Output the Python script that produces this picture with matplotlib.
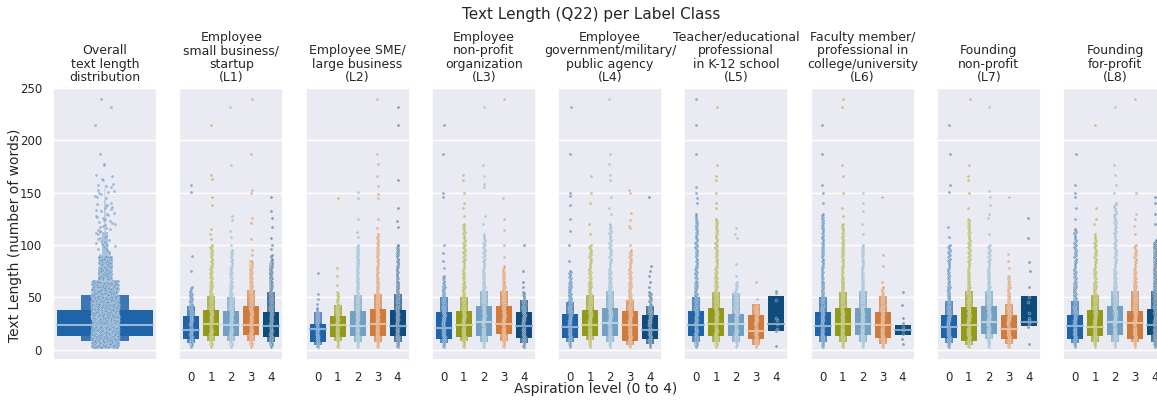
import numpy as np
import matplotlib
matplotlib.use("Agg")
import matplotlib.pyplot as plt
import seaborn as sns
from matplotlib.colors import to_rgb
from matplotlib.patches import Rectangle

sns.set_theme(style="darkgrid")
plt.rcParams['font.family'] = ['DejaVu Sans']

# ---- data ----
levels = [0, 1, 2, 3, 4]
level_colors = ["#1f63a8", "#939a1a", "#72a0c3", "#d07a3b", "#0f4c7e"]

panel_titles = [
    "Employee\nsmall business/\nstartup\n(L1)",
    "Employee SME/\nlarge business\n(L2)",
    "Employee\nnon-profit\norganization\n(L3)",
    "Employee\ngovernment/military/\npublic agency\n(L4)",
    "Teacher/educational\nprofessional\nin K-12 school\n(L5)",
    "Faculty member/\nprofessional in\ncollege/university\n(L6)",
    "Founding\nnon-profit\n(L7)",
    "Founding\nfor-profit\n(L8)",
]

# median text length per panel (L1..L8) and aspiration level (0..4)
medians = [
    [19.0, 24.2, 23.6, 23.2, 22.3],
    [19.7, 23.0, 22.3, 24.2, 22.3],
    [20.4, 23.6, 26.1, 24.2, 22.3],
    [21.3, 23.6, 25.5, 23.0, 19.1],
    [23.6, 24.2, 24.2, 18.2, 24.2],
    [22.3, 24.2, 24.2, 23.0, 19.1],
    [21.3, 23.6, 26.1, 20.0, 26.8],
    [22.3, 21.3, 26.4, 25.5, 23.9],
]

# letter values (lower, upper) from the inner box outwards
letter_values = [
    [[(10.5, 32.5), (6.4, 42), (3, 55)],
     [(13.4, 38.2), (8, 51.6), (3, 65), (2, 83)],
     [(13.4, 37.3), (8, 50), (3, 65), (2, 90)],
     [(13.7, 42), (8, 57), (3, 86)],
     [(12.1, 36.3), (7.3, 55.4), (3, 83)]],
    [[(7, 24.8), (4, 35.7)],
     [(11.8, 32.5), (8, 43)],
     [(12.7, 37.3), (7.3, 52.5), (3, 98)],
     [(13.4, 39), (7.3, 53.5), (3, 68), (2, 100)],
     [(13.4, 38.2), (7.3, 53.5), (3, 65), (2, 100)]],
    [[(10.5, 35.7), (6.4, 50), (3, 60)],
     [(12.1, 36.6), (8, 50), (3, 64)],
     [(13.4, 41.4), (7.3, 55.7), (3, 70)],
     [(15, 41.4), (8, 56.4), (3, 75)],
     [(11.1, 35.7), (6, 47)]],
    [[(11.1, 34.4), (7.3, 45), (3, 60)],
     [(13.4, 38.2), (9, 52.5), (3, 66)],
     [(12.7, 39.8), (7.3, 55.7), (3, 75)],
     [(8, 37.3), (4, 47.8), (2, 57)],
     [(9.9, 33.4), (5, 41.4)]],
    [[(12.7, 37.3), (7.3, 50), (3, 65)],
     [(12.7, 39.5), (7.3, 55.4), (3, 70.7)],
     [(12.7, 34.4), (7.3, 54)],
     [(10.5, 33.4), (4.8, 43.6)],
     [(18.2, 51.6)]],
    [[(12.7, 36.3), (7.3, 50), (3, 65)],
     [(13.4, 39.5), (7.3, 54.8), (3, 70)],
     [(14.3, 39.5), (7.3, 56.4), (3, 72)],
     [(11.1, 35.7), (5, 51)],
     [(14.3, 23.9)]],
    [[(11.5, 32.8), (6.4, 46), (3, 60)],
     [(8.6, 40.8), (4, 55.7), (2, 70)],
     [(15, 42), (10.2, 56.4), (3, 75)],
     [(9.6, 33.4), (5, 44), (3, 55)],
     [(22.3, 51)]],
    [[(10.5, 32.8), (6.4, 46), (3, 60)],
     [(12.7, 38.2), (7.3, 52), (3, 65)],
     [(14.3, 41.4), (7.3, 56.4), (3, 75)],
     [(10.2, 37.3), (7.3, 55.7), (3, 70)],
     [(14.3, 39), (7, 56.4), (3, 102)]],
]

# every word count from 2 up to this value occurs (0 = no dense column)
dense_top = [
    [60, 100, 95, 85, 90],
    [40, 55, 100, 110, 100],
    [70, 120, 110, 80, 55],
    [75, 100, 120, 95, 55],
    [130, 125, 65, 43, 0],
    [130, 120, 100, 60, 0],
    [100, 125, 100, 70, 0],
    [115, 110, 140, 100, 105],
]

# individual points above the dense column
sparse_points = [
    [[75, 89, 151, 157],
     [106, 110, 115, 138, 146, 163, 167, 215],
     [100, 108, 113, 124, 128, 176, 232],
     [90, 95, 106, 121, 126, 150, 153, 187, 240],
     [96, 100, 107, 117, 126, 132, 146]],
    [[44, 48, 53, 73],
     [62, 70, 78, 145],
     [108, 112, 125, 145, 151],
     [116, 125, 145, 149, 156, 166, 177, 187, 240],
     [117, 123, 135, 162, 215, 232]],
    [[78, 85, 92, 100, 146, 150, 187, 215],
     [128, 135, 140, 150, 162, 167],
     [120, 128, 155, 158, 166, 176, 232],
     [88, 100, 114, 125, 145, 240],
     [60, 65, 75, 100]],
    [[85, 100, 113, 125, 138, 147, 150, 187, 232],
     [110, 120, 140, 150, 166],
     [130, 135, 146, 162, 167, 177, 187, 240],
     [100, 116, 118, 124, 131, 150, 153],
     [60, 65, 70, 75, 80, 146]],
    [[140, 145, 150, 155, 187, 215, 240],
     [135, 140, 150, 162, 166, 176, 232],
     [70, 82, 107, 110, 116],
     [48, 65],
     [3, 18, 20, 24, 28, 30, 47, 54, 56]],
    [[140, 150, 157, 187, 215],
     [128, 135, 150, 166, 176, 232, 240],
     [110, 120, 132, 140, 150],
     [65, 80, 90, 146],
     [5, 10, 15, 19, 22, 25, 30, 43, 55]],
    [[108, 117, 151, 157, 187, 215],
     [135, 150, 162, 166, 176, 240],
     [110, 126, 130, 138, 146, 152, 232],
     [78, 85, 91, 146],
     [5, 22, 24, 26, 28, 30, 35, 45, 50, 60, 75, 84, 107, 126]],
    [[125, 135, 146, 150, 157, 187],
     [120, 125, 135, 215],
     [150, 157, 167, 176, 232],
     [110, 118, 125, 130, 150, 240],
     [120, 130, 140, 146]],
]

overall_median = 23.2
overall_letter_values = [(12.7, 38.2), (8, 52.5), (1.6, 66.9), (1, 87.6),
                         (1, 112), (1, 144), (1, 157)]
overall_color = "#1f63a8"


def lighten(c, t):
    return tuple(np.array(to_rgb(c)) * (1 - t) + t)


def jitter(n, half):
    # deterministic scatter of x offsets (hash of the index)
    h = np.sin(np.arange(n) * 12.9898 + 1.0) * 43758.5453
    return (h - np.floor(h) - 0.5) * 2 * half


def draw_boxen(ax, x, bounds, color, width, shades):
    # outer (narrow, tall) boxes first so the inner box sits on top
    for k in range(len(bounds) - 1, -1, -1):
        lo, hi = bounds[k]
        w = width * 0.5 ** k
        ax.add_patch(Rectangle((x - w / 2, lo), w, hi - lo, lw=0,
                               facecolor=lighten(color, shades[k]), zorder=2))


def group_values(p, j):
    vals = list(sparse_points[p][j])
    if dense_top[p][j] > 0:
        vals = list(range(2, dense_top[p][j] + 1)) + vals
    return np.array(vals, dtype=float)


fig = plt.figure(figsize=(11.57, 4.01), dpi=100)
W, H = 1157, 401
axes = []
for i in range(9):
    ax = fig.add_axes([(53 + i * 126.25) / W, 41 / H, 104 / W, 273 / H])
    ax.set_ylim(-10, 251)
    ax.set_yticks([0, 50, 100, 150, 200, 250])
    ax.grid(axis='x', visible=False)
    ax.tick_params(axis='both', labelsize=8.5, pad=2)
    axes.append(ax)

# overall panel: union of all responses
ax = axes[0]
ax.set_xlim(-0.5, 0.5)
ax.set_xticks([])
draw_boxen(ax, 0, overall_letter_values, overall_color, 0.92,
           [0, 0.13, 0.3, 0.45, 0.6, 0.7, 0.8])
all_vals = np.concatenate([group_values(p, j) for p in range(8) for j in levels])
core = all_vals[all_vals <= 66]
mid = all_vals[(all_vals > 66) & (all_vals <= 88)]
tail = np.unique(all_vals[all_vals > 88])
pt_col = lighten(overall_color, 0.3)
for vals, half in [(core, 0.125), (mid, 0.06), (tail, 0.1)]:
    ax.scatter(jitter(len(vals), half), vals, s=5, color=pt_col,
               edgecolor='white', linewidth=0.25, alpha=0.55, zorder=3)
ax.plot([-0.46, 0.46], [overall_median] * 2, color=lighten(overall_color, 0.55),
        lw=1.5, zorder=4)
ax.set_title("Overall\ntext length\ndistribution", fontsize=9, pad=4,
             linespacing=1.05)
ax.set_ylabel("Text Length (number of words)", fontsize=10)
ax.yaxis.set_label_coords(-0.30, 0.456)

# per label class panels
for p in range(8):
    ax = axes[p + 1]
    ax.set_xlim(-0.6, 4.6)
    ax.set_xticks(levels)
    ax.tick_params(axis='y', labelleft=False)
    for j in levels:
        col = level_colors[j]
        draw_boxen(ax, j, letter_values[p][j], col, 0.8, [0, 0.25, 0.6, 0.78])
        vals = group_values(p, j)
        ax.scatter(j + jitter(len(vals), 0.05), vals, s=5,
                   color=lighten(col, 0.25), edgecolor='white', linewidth=0.25,
                   alpha=0.65, zorder=3)
        ax.plot([j - 0.4, j + 0.4], [medians[p][j]] * 2,
                color=lighten(col, 0.5), lw=1.5, zorder=4)
    ax.set_title(panel_titles[p], fontsize=9, pad=4, linespacing=1.05)

fig.text(591 / W, 1 - 14 / H, "Text Length (Q22) per Label Class",
         ha='center', va='center', fontsize=11)
fig.text(596 / W, 1 - 389 / H, "Aspiration level (0 to 4)",
         ha='center', va='center', fontsize=10)

fig.savefig("out.png", dpi=100)
